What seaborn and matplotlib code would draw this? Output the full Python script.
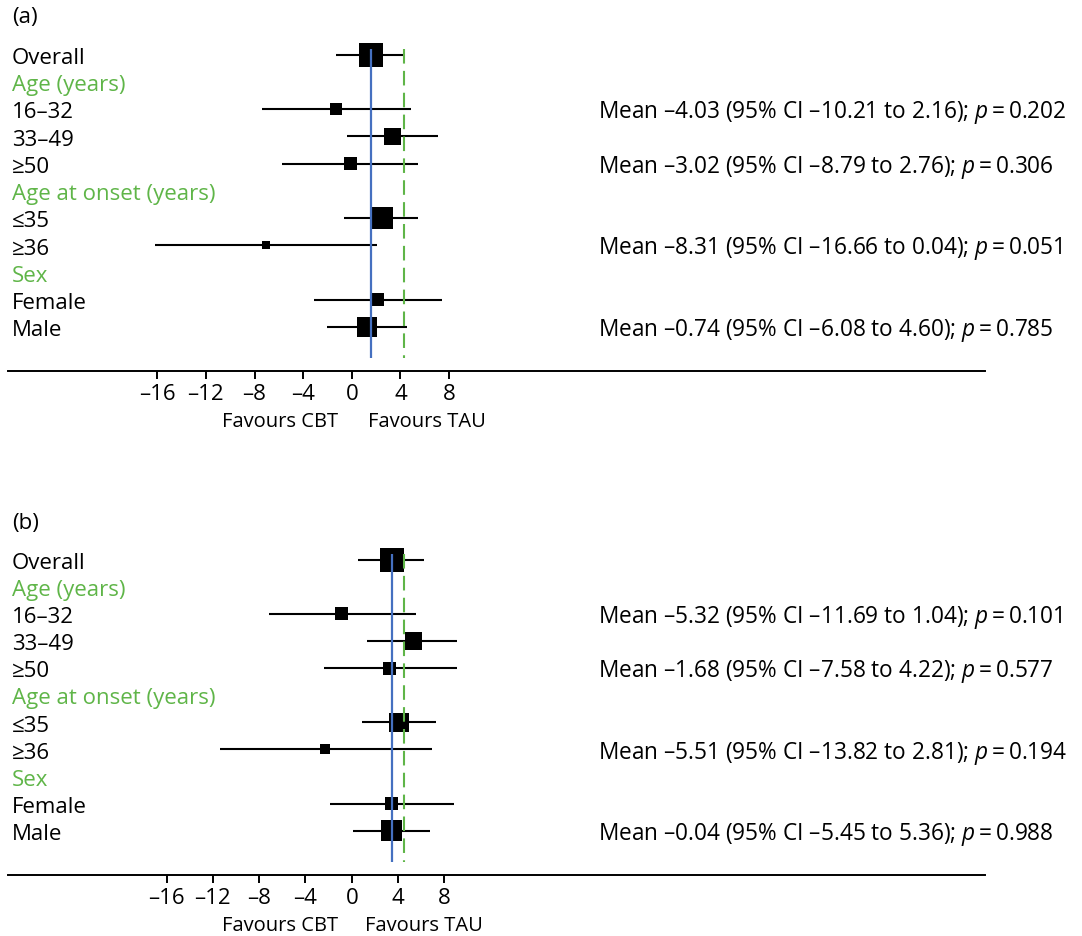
import numpy as np
import pandas as pd
import matplotlib
matplotlib.use("Agg")
import matplotlib.pyplot as plt
import matplotlib.transforms as mtransforms
import seaborn as sns

# row labels (headers shown in green, no estimate)
row_labels = ["Overall", "Age (years)", "16\u201332", "33\u201349", "\u226550",
              "Age at onset (years)", "\u226435", "\u226536", "Sex", "Female", "Male"]
header_rows = ["Age (years)", "Age at onset (years)", "Sex"]
groups = ["Overall", "16\u201332", "33\u201349", "\u226550", "\u226435", "\u226536", "Female", "Male"]

# panel (a) estimates read off the axis scale
est_a = [1.55, -1.29, 3.36, -0.10, 2.51, -7.05, 2.14, 1.26]
lo_a = [-1.32, -7.35, -0.41, -5.71, -0.61, -16.23, -3.10, -2.06]
hi_a = [4.24, 4.85, 7.07, 5.43, 5.43, 2.08, 7.40, 4.57]
weight_a = [23.7, 12, 17, 13, 21.7, 8, 12.7, 20]
null_a = 4.30

# panel (b)
est_b = [3.48, -0.88, 5.32, 3.27, 4.07, -2.31, 3.42, 3.44]
lo_b = [0.57, -7.15, 1.35, -2.37, 0.92, -11.38, -1.90, 0.11]
hi_b = [6.27, 5.53, 9.08, 9.08, 7.26, 6.94, 8.82, 6.77]
weight_b = [24, 13, 17.7, 13, 19.7, 10, 12.7, 21]
null_b = 4.52

# interaction test notes
notes_a = {
    "16\u201332": "Mean \u20134.03 (95% CI \u201310.21 to 2.16); $p$\u2009=\u20090.202",
    "\u226550": "Mean \u20133.02 (95% CI \u20138.79 to 2.76); $p$\u2009=\u20090.306",
    "\u226536": "Mean \u20138.31 (95% CI \u201316.66 to 0.04); $p$\u2009=\u20090.051",
    "Male": "Mean \u20130.74 (95% CI \u20136.08 to 4.60); $p$\u2009=\u20090.785",
}
notes_b = {
    "16\u201332": "Mean \u20135.32 (95% CI \u201311.69 to 1.04); $p$\u2009=\u20090.101",
    "\u226550": "Mean \u20131.68 (95% CI \u20137.58 to 4.22); $p$\u2009=\u20090.577",
    "\u226536": "Mean \u20135.51 (95% CI \u201313.82 to 2.81); $p$\u2009=\u20090.194",
    "Male": "Mean \u20130.04 (95% CI \u20135.45 to 5.36); $p$\u2009=\u20090.988",
}

ticks = [-16, -12, -8, -4, 0, 4, 8]
tick_labels = ["\u201316", "\u201312", "\u20138", "\u20134", "0", "4", "8"]

sns.set_style("white")
plt.rcParams["font.family"] = ["Open Sans", "DejaVu Sans"]
plt.rcParams["mathtext.fontset"] = "custom"
plt.rcParams["mathtext.rm"] = "Open Sans"
plt.rcParams["mathtext.it"] = "Open Sans:italic"
plt.rcParams["text.color"] = "black"
plt.rcParams["xtick.color"] = "black"

GREEN = "#5fb548"
BLUE = "#4570c0"
FS = 16

W, H = 1082, 937
fig = plt.figure(figsize=(W / 100, H / 100), dpi=100)


def forest(ax, est, lo, hi, weight, null, notes, xlim):
    df = pd.DataFrame({"group": groups, "est": est, "lo": lo, "hi": hi, "w": weight})
    df["row"] = [row_labels.index(g) for g in df["group"]]

    ax.hlines(df["row"], df["lo"], df["hi"], color="black", lw=1.5, zorder=2)
    sns.scatterplot(data=df, x="est", y="row", marker="s", color="black",
                    s=(df["w"] * 0.72) ** 2, linewidth=0, ax=ax, zorder=3, legend=False)
    ax.vlines(df["est"].iloc[0], -0.21, 11.15, color=BLUE, lw=1.6, zorder=4)
    ax.vlines(null, -0.21, 11.15, color=GREEN, lw=1.5, linestyles=(0, (7, 3.5)), zorder=5)

    trans = mtransforms.blended_transform_factory(ax.transAxes, ax.transData)
    for i, lab in enumerate(row_labels):
        ax.text(0.004, i + 0.1, lab, transform=trans, va="center", ha="left", fontsize=FS,
                color=GREEN if lab in header_rows else "black")
    for g, txt in notes.items():
        ax.text(0.604, row_labels.index(g) + 0.1, txt, transform=trans, va="center",
                ha="left", fontsize=16.3)

    ax.set_xlim(*xlim)
    ax.set_ylim(11.62, -0.58)
    ax.set_xticks(ticks)
    ax.set_xticklabels(tick_labels, fontsize=FS)
    ax.set_yticks([])
    ax.set_xlabel("")
    ax.set_ylabel("")
    for side in ["top", "left", "right"]:
        ax.spines[side].set_visible(False)
    ax.spines["bottom"].set_linewidth(1.4)
    ax.spines["bottom"].set_color("black")
    ax.tick_params(axis="x", direction="out", length=6, width=1.4, color="black",
                   bottom=True, pad=3)
    ax.patch.set_alpha(0)


ax_a = fig.add_axes([8 / W, 1 - 372 / H, 977 / W, 332 / H])
forest(ax_a, est_a, lo_a, hi_a, weight_a, null_a, notes_a, (-28.28, 52.08))
ax_b = fig.add_axes([8 / W, 1 - 875.7 / H, 977 / W, 330.7 / H])
forest(ax_b, est_b, lo_b, hi_b, weight_b, null_b, notes_b, (-29.7, 54.7))

fig.text(12 / W, 1 - 18 / H, "(a)", fontsize=FS, va="center", ha="left")
fig.text(12 / W, 1 - 523 / H, "(b)", fontsize=FS, va="center", ha="left")
fig.text(280 / W, 1 - 422 / H, "Favours CBT", fontsize=14.5, va="center", ha="center")
fig.text(427 / W, 1 - 422 / H, "Favours TAU", fontsize=14.5, va="center", ha="center")
fig.text(280 / W, 1 - 926 / H, "Favours CBT", fontsize=14.5, va="center", ha="center")
fig.text(424 / W, 1 - 926 / H, "Favours TAU", fontsize=14.5, va="center", ha="center")

fig.savefig("out.png", dpi=100)
